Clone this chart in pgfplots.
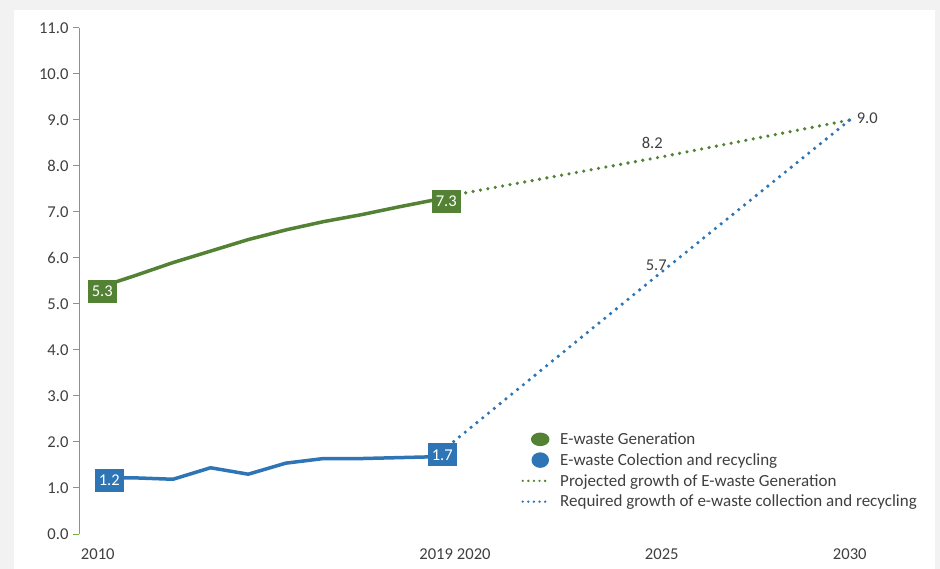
\documentclass[border=0pt]{standalone}
\usepackage{pgfplots}
\pgfplotsset{compat=1.18}
\usepackage{fontspec}
\setmainfont{Carlito}
\definecolor{gr}{HTML}{548235}
\definecolor{bl}{HTML}{2E75B6}
\definecolor{axg}{HTML}{70AD47}
\definecolor{txt}{HTML}{404040}
\definecolor{bg}{HTML}{F2F2F2}
\tikzset{dlbox/.style={fill=#1, text=white, font=\fontsize{16.5bp}{18bp}\selectfont, minimum width=29bp, minimum height=23bp, inner sep=0pt},
         dltxt/.style={text=txt, font=\fontsize{16.5bp}{18bp}\selectfont, inner sep=0pt}}
\begin{document}
\begin{tikzpicture}
\fill[bg] (0,0) rectangle (940bp,569bp);
\fill[white] (14bp,0) rectangle (935bp,559bp);
\path[use as bounding box] (0,0) rectangle (940bp,569bp);
\begin{axis}[
  at={(79bp,35bp)}, anchor=south west,
  scale only axis, width=808.4bp, height=506bp,
  xmin=2009.5, xmax=2031, ymin=0, ymax=11,
  clip=false,
  axis lines*=left,
  x axis line style={draw=none},
  y axis line style={axg, line width=1bp},
  xtick={2010,2019,2020,2025,2030},
  xticklabels={2010,2019,2020,2025,2030},
  ytick={0,1,2,3,4,5,6,7,8,9,10,11},
  yticklabels={0.0,1.0,2.0,3.0,4.0,5.0,6.0,7.0,8.0,9.0,10.0,11.0},
  xtick style={draw=none},
  ytick style={axg, line width=1bp},
  tick align=outside, major tick length=6bp,
  tick label style={font=\fontsize{16.6bp}{19bp}\selectfont, text=txt},
  xticklabel style={yshift=-5.5bp},
  yticklabel style={xshift=-1bp},
  /pgf/number format/assume math mode=true,
  legend cell align=left,
  legend style={font=\fontsize{17bp}{19bp}\selectfont, text=txt, draw=none, fill=none,
    at={(axis description cs:0.5468,0.2045)}, anchor=north west, inner sep=0pt,
    row sep=3.5bp},
]
\addplot[gr, line width=3.5bp, line join=round,
  legend image code/.code={\path[draw=none,fill=none] (0,0) rectangle (37bp,0.1bp); \fill[gr] (19bp,0) ellipse (7.5bp and 5bp);}]
  coordinates {(2010,5.35)(2011,5.62)(2012,5.90)(2013,6.15)(2014,6.40)(2015,6.61)(2016,6.79)(2017,6.94)(2018,7.11)(2019,7.27)};
\addlegendentry{E-waste Generation}
\addplot[bl, line width=3.5bp, line join=round,
  legend image code/.code={\path[draw=none,fill=none] (0,0) rectangle (37bp,0.1bp); \fill[bl] (19bp,0) ellipse (7bp and 6bp);}]
  coordinates {(2010,1.22)(2011,1.22)(2012,1.19)(2013,1.44)(2014,1.30)(2015,1.54)(2016,1.64)(2017,1.64)(2018,1.66)(2019,1.68)};
\addlegendentry{E-waste Colection and recycling}
\addplot[gr, line width=3.6bp, line cap=round, dash pattern=on 0bp off 7.5bp,
  legend image code/.code={\path[draw=none,fill=none] (0,0) rectangle (37bp,0.1bp); \draw[gr, line width=2.6bp, line cap=round, dash pattern=on 0bp off 5.6bp] (1.5bp,0) -- (27bp,0);}]
  coordinates {(2019,7.3)(2025,8.2)(2030,9.0)};
\addlegendentry{Projected growth of E-waste Generation}
\addplot[bl, line width=3.6bp, line cap=round, dash pattern=on 0bp off 7.5bp,
  legend image code/.code={\path[draw=none,fill=none] (0,0) rectangle (37bp,0.1bp); \draw[bl, line width=2.6bp, line cap=round, dash pattern=on 0bp off 5.6bp] (1.5bp,0) -- (27bp,0);}]
  coordinates {(2019,1.7)(2025,5.7)(2030,9.0)};
\addlegendentry{Required growth of e-waste collection and recycling}
\node[dlbox=gr, xshift=4.5bp, yshift=-1bp] at (axis cs:2010,5.3) {5.3};
\node[dlbox=gr, xshift=10bp, yshift=-3bp] at (axis cs:2019,7.3) {7.3};
\node[dlbox=bl, xshift=11.5bp, yshift=-1.5bp] at (axis cs:2010,1.2) {1.2};
\node[dlbox=bl, xshift=6bp, yshift=1bp] at (axis cs:2019,1.7) {1.7};
\node[dltxt, xshift=-9.5bp, yshift=13.8bp] at (axis cs:2025,8.2) {8.2};
\node[dltxt, xshift=-5.5bp, yshift=6.8bp] at (axis cs:2025,5.7) {5.7};
\node[dltxt, xshift=17.5bp, yshift=2bp] at (axis cs:2030,9.0) {9.0};
\end{axis}
\end{tikzpicture}
\end{document}
